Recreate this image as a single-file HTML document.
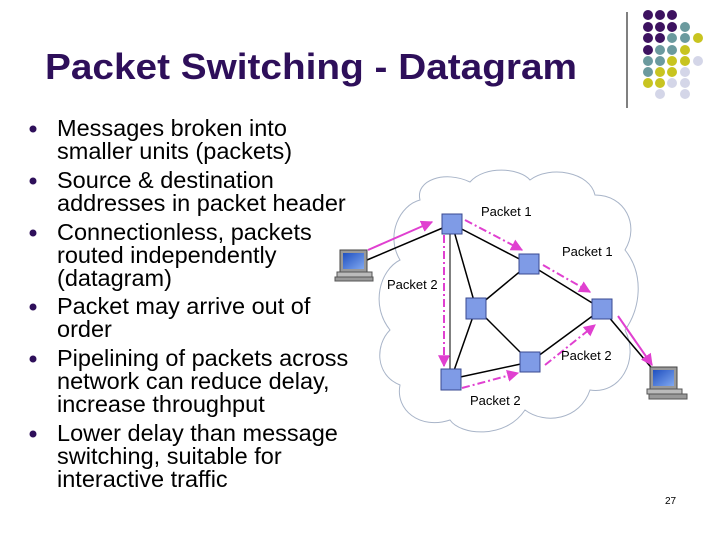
<!DOCTYPE html>
<html><head><meta charset="utf-8"><style>
html,body{margin:0;padding:0;background:#fff;}
svg{display:block;}
text{font-family:"Liberation Sans",Arial,sans-serif;}
</style></head><body>
<svg width="720" height="540" viewBox="0 0 720 540" xmlns="http://www.w3.org/2000/svg">
<defs>
<marker id="ah" viewBox="0 0 10 10" refX="9" refY="5" markerWidth="6" markerHeight="6" orient="auto"><path d="M0,0 L10,5 L0,10 z" fill="#e040d0"/></marker>
<linearGradient id="scr" x1="0" y1="0" x2="1" y2="1"><stop offset="0" stop-color="#2050c0"/><stop offset="1" stop-color="#80a8f0"/></linearGradient>
</defs>
<text x="45" y="79" font-size="36" font-weight="bold" fill="#2e0f5a" textLength="532" lengthAdjust="spacingAndGlyphs">Packet Switching - Datagram</text>
<line x1="627" y1="12" x2="627" y2="108" stroke="#000" stroke-width="1"/>
<g>
<circle cx="648" cy="15" r="5" fill="#3d1260"/><circle cx="660" cy="15" r="5" fill="#3d1260"/><circle cx="672" cy="15" r="5" fill="#3d1260"/>
<circle cx="648" cy="27" r="5" fill="#3d1260"/><circle cx="660" cy="27" r="5" fill="#3d1260"/><circle cx="672" cy="27" r="5" fill="#3d1260"/><circle cx="685" cy="27" r="5" fill="#6b9a9e"/>
<circle cx="648" cy="38" r="5" fill="#3d1260"/><circle cx="660" cy="38" r="5" fill="#3d1260"/><circle cx="672" cy="38" r="5" fill="#6b9a9e"/><circle cx="685" cy="38" r="5" fill="#6b9a9e"/><circle cx="698" cy="38" r="5" fill="#c8c420"/>
<circle cx="648" cy="50" r="5" fill="#3d1260"/><circle cx="660" cy="50" r="5" fill="#6b9a9e"/><circle cx="672" cy="50" r="5" fill="#6b9a9e"/><circle cx="685" cy="50" r="5" fill="#c8c420"/>
<circle cx="648" cy="61" r="5" fill="#6b9a9e"/><circle cx="660" cy="61" r="5" fill="#6b9a9e"/><circle cx="672" cy="61" r="5" fill="#c8c420"/><circle cx="685" cy="61" r="5" fill="#c8c420"/><circle cx="698" cy="61" r="5" fill="#d4d6e8"/>
<circle cx="648" cy="72" r="5" fill="#6b9a9e"/><circle cx="660" cy="72" r="5" fill="#c8c420"/><circle cx="672" cy="72" r="5" fill="#c8c420"/><circle cx="685" cy="72" r="5" fill="#d4d6e8"/>
<circle cx="648" cy="83" r="5" fill="#c8c420"/><circle cx="660" cy="83" r="5" fill="#c8c420"/><circle cx="672" cy="83" r="5" fill="#d4d6e8"/><circle cx="685" cy="83" r="5" fill="#d4d6e8"/>
<circle cx="660" cy="94" r="5" fill="#d4d6e8"/><circle cx="685" cy="94" r="5" fill="#d4d6e8"/>
</g>
<g fill="#2e0f5a">
<circle cx="33" cy="129" r="3.5"/><circle cx="33" cy="181" r="3.5"/><circle cx="33" cy="233" r="3.5"/><circle cx="33" cy="307" r="3.5"/><circle cx="33" cy="359" r="3.5"/><circle cx="33" cy="434" r="3.5"/>
</g>
<g font-size="23.5" fill="#000">
<text x="57" y="136">Messages broken into</text>
<text x="57" y="159">smaller units (packets)</text>
<text x="57" y="188">Source &amp; destination</text>
<text x="57" y="211">addresses in packet header</text>
<text x="57" y="240">Connectionless, packets</text>
<text x="57" y="263">routed independently</text>
<text x="57" y="286">(datagram)</text>
<text x="57" y="314">Packet may arrive out of</text>
<text x="57" y="337">order</text>
<text x="57" y="366">Pipelining of packets across</text>
<text x="57" y="389">network can reduce delay,</text>
<text x="57" y="412">increase throughput</text>
<text x="57" y="441">Lower delay than message</text>
<text x="57" y="464">switching, suitable for</text>
<text x="57" y="487">interactive traffic</text>
</g>
<path d="M420,200 C415,180 445,170 470,182 C485,165 520,168 530,180 C550,165 590,172 595,195 C625,195 640,225 625,250 C645,275 640,310 625,330 C640,360 620,395 590,390 C580,420 545,425 525,410 C505,440 460,435 450,420 C420,430 395,410 400,385 C375,375 375,345 390,330 C370,305 380,270 400,260 C385,235 400,205 420,200 Z" fill="none" stroke="#a8b4c8" stroke-width="1"/>
<g stroke="#000" stroke-width="1.5">
<line x1="367" y1="260" x2="452" y2="224"/>
<line x1="452" y1="224" x2="529" y2="264"/>
<line x1="452" y1="224" x2="476" y2="308"/>
<line x1="450" y1="224" x2="450" y2="379" stroke-width="1"/>
<line x1="476" y1="308" x2="529" y2="264"/>
<line x1="476" y1="308" x2="530" y2="362"/>
<line x1="476" y1="308" x2="451" y2="379"/>
<line x1="529" y1="264" x2="602" y2="309"/>
<line x1="530" y1="362" x2="602" y2="309"/>
<line x1="451" y1="379" x2="530" y2="362"/>
<line x1="602" y1="309" x2="655" y2="372"/>
</g>
<g stroke="#e040d0" stroke-width="2" fill="none" marker-end="url(#ah)">
<line x1="368" y1="250" x2="432" y2="222"/>
<line x1="465" y1="220" x2="522" y2="250" stroke-dasharray="8,3,2,3"/>
<line x1="543" y1="265" x2="590" y2="292" stroke-dasharray="8,3,2,3"/>
<line x1="444" y1="235" x2="444" y2="366" stroke-dasharray="8,3,2,3"/>
<line x1="462" y1="388" x2="518" y2="373" stroke-dasharray="8,3,2,3"/>
<line x1="545" y1="365" x2="595" y2="325" stroke-dasharray="8,3,2,3"/>
<line x1="618" y1="316" x2="652" y2="365"/>
</g>
<g fill="#7f9be6" stroke="#3a4a90" stroke-width="1">
<rect x="442" y="214" width="20" height="20"/>
<rect x="519" y="254" width="20" height="20"/>
<rect x="466" y="298" width="20" height="21"/>
<rect x="592" y="299" width="20" height="20"/>
<rect x="520" y="352" width="20" height="20"/>
<rect x="441" y="369" width="20" height="21"/>
</g>
<g>
<rect x="340" y="250" width="27" height="22" fill="#999" stroke="#444"/>
<rect x="343" y="253" width="21" height="16" fill="url(#scr)"/>
<rect x="337" y="272" width="35" height="5" fill="#bbb" stroke="#555"/>
<rect x="335" y="277" width="38" height="4" fill="#999" stroke="#555"/>
</g>
<g>
<rect x="650" y="367" width="27" height="22" fill="#999" stroke="#444"/>
<rect x="653" y="370" width="21" height="16" fill="url(#scr)"/>
<rect x="647" y="389" width="35" height="5" fill="#bbb" stroke="#555"/>
<rect x="649" y="394" width="38" height="5" fill="#999" stroke="#555"/>
</g>
<g font-size="13" fill="#000">
<text x="481" y="216">Packet 1</text>
<text x="562" y="256">Packet 1</text>
<text x="387" y="289">Packet 2</text>
<text x="561" y="360">Packet 2</text>
<text x="470" y="405">Packet 2</text>
</g>
<text x="665" y="504" font-size="10" fill="#000">27</text>
</svg>
</body></html>
